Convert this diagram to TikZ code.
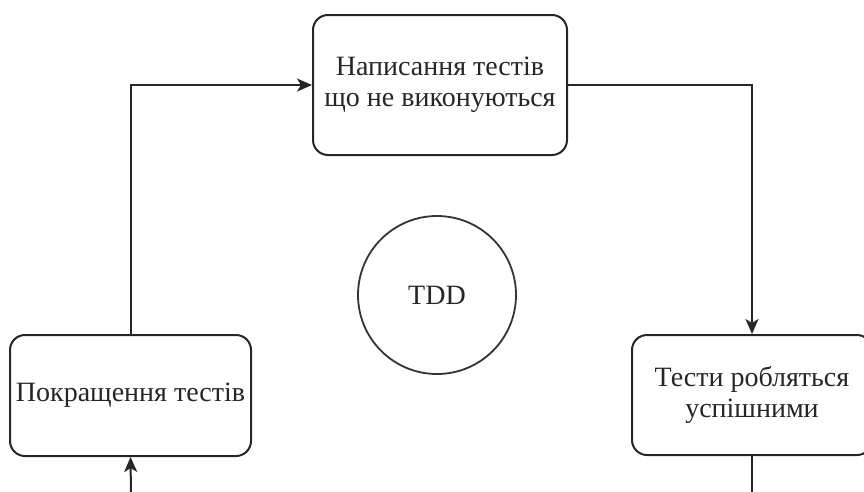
\documentclass[tikz,border=0pt]{standalone}
\usepackage{fontspec}
\setmainfont{Liberation Serif}
\usetikzlibrary{arrows.meta}
\begin{document}
\begin{tikzpicture}[x=1pt,y=-1pt,
  box/.style={draw=black!85, line width=2pt, rounded corners=15pt, align=center,
    inner sep=0pt, font=\fontsize{28}{31}\selectfont, text=black!85},
  ring/.style={draw=black!80, line width=1.8pt, circle, inner sep=0pt,
    font=\fontsize{28}{31}\selectfont, text=black!85},
  conn/.style={draw=black!85, line width=2pt},
  arr/.style={conn, -{Stealth[length=15pt,width=13pt,inset=4pt]}}]
\useasboundingbox (0,0) rectangle (864,491);
\node[box, minimum width=254pt, minimum height=140pt] (top) at (440,85) {Написання тестів\\що не виконуються};
\node[box, minimum width=241pt, minimum height=121pt] (left) at (130.5,395.5) {Покращення тестів};
\node[box, minimum width=240pt, minimum height=120pt] (right) at (752,395) {Тести робляться\\успішними};
\node[ring, minimum size=158pt] (tdd) at (437,295) {TDD};
\coordinate (rb) at (752,495);
\coordinate (lb) at (131,495);
\draw[arr] (left.north) |- (top.west);
\draw[arr] (top.east) -| (right.north);
\draw[conn] (right.south) -- (rb);
\draw[arr] (lb) -- (left.south);
\end{tikzpicture}
\end{document}
